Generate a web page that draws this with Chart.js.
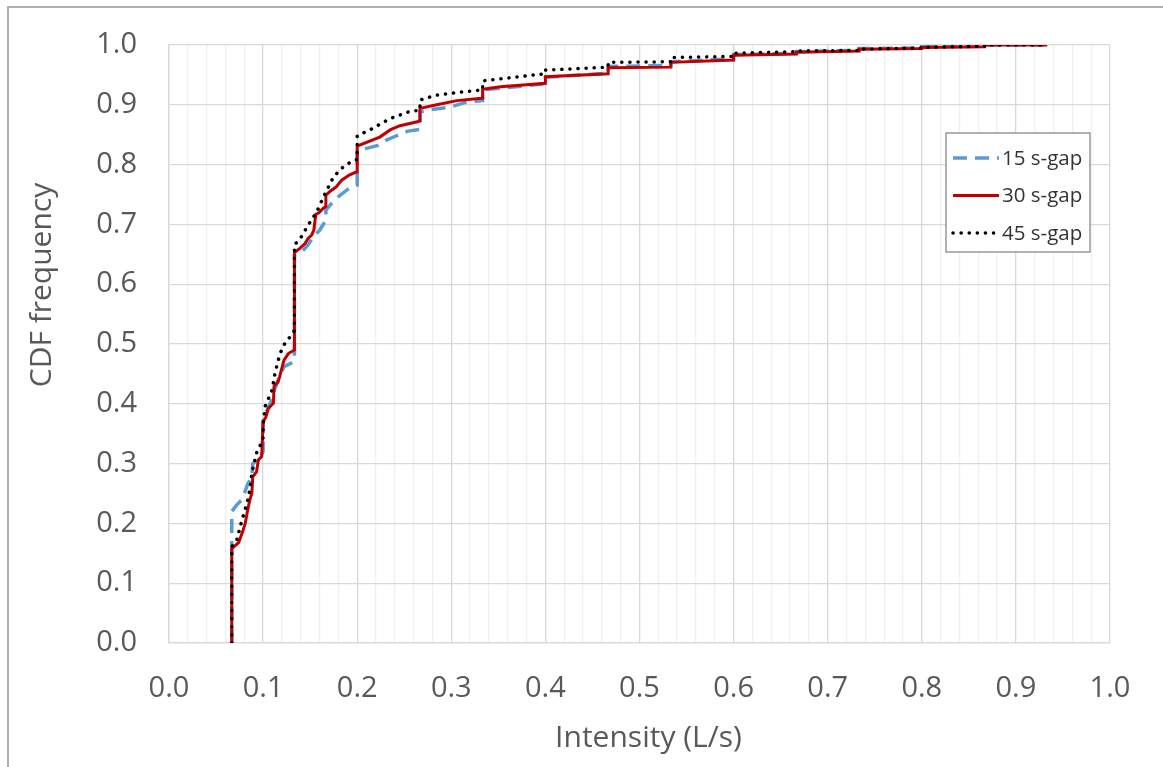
<!DOCTYPE html>
<html>
<head>
<meta charset="utf-8">
<script src="https://cdn.jsdelivr.net/npm/chart.js@4.4.1/dist/chart.umd.min.js"></script>
<style>
  html, body { margin: 0; padding: 0; background: #fff; }
  #wrap { position: relative; width: 1163px; height: 767px; }
  #frame { position: absolute; left: 7px; top: 6px; right: 0; bottom: 0;
           border-top: 2px solid #b0b0b0; border-left: 2px solid #b0b0b0; pointer-events: none; }
</style>
</head>
<body>
<div id="wrap">
  <canvas id="cdfChart" width="1163" height="767"></canvas>
  <div id="frame"></div>
</div>
<script>
// Intensity (L/s) and CDF frequency
const gap15X = [0.0667, 0.0667, 0.072, 0.077, 0.080, 0.084, 0.088, 0.089, 0.097, 0.100, 0.100, 0.103, 0.109, 0.111, 0.116, 0.122, 0.1325, 0.1333, 0.1333,
  0.141, 0.148, 0.153, 0.160, 0.1667, 0.1667, 0.176, 0.182, 0.192, 0.1995, 0.200, 0.200, 0.212, 0.222, 0.231, 0.240, 0.254, 0.2667, 0.2667,
  0.274, 0.2986, 0.315, 0.333, 0.3333, 0.3333, 0.400, 0.400, 0.4667, 0.4667, 0.5333, 0.5333, 0.600, 0.600, 0.6667, 0.6667, 0.7333, 0.7333,
  0.800, 0.800, 0.8667, 0.8667, 0.9333];
const gap15Y = [0.000, 0.220, 0.231, 0.239, 0.250, 0.267, 0.276, 0.300, 0.310, 0.320, 0.375, 0.385, 0.406, 0.418, 0.440, 0.462, 0.470, 0.475, 0.648,
  0.654, 0.666, 0.679, 0.690, 0.707, 0.724, 0.741, 0.749, 0.761, 0.766, 0.766, 0.824, 0.828, 0.832, 0.841, 0.847, 0.856, 0.859, 0.888,
  0.891, 0.896, 0.904, 0.907, 0.907, 0.925, 0.935, 0.946, 0.953, 0.964, 0.966, 0.972, 0.977, 0.984, 0.986, 0.989, 0.991, 0.994,
  0.995, 0.997, 0.998, 1.000, 1.000];

const gap30X = [0.0667, 0.0667, 0.074, 0.078, 0.081, 0.0833, 0.086, 0.088, 0.089, 0.093, 0.095, 0.0985, 0.100, 0.103, 0.1055, 0.111, 0.1116, 0.116, 0.1175, 0.1222, 0.1268, 0.1333, 0.1333,
  0.139, 0.1445, 0.148, 0.1516, 0.154, 0.156, 0.159, 0.164, 0.1667, 0.1667, 0.171, 0.178, 0.1835, 0.192, 0.1994, 0.200, 0.200,
  0.224, 0.235, 0.2455, 0.265, 0.2667, 0.2667, 0.2845, 0.306, 0.332, 0.3333, 0.3333, 0.352, 0.400, 0.400, 0.4667, 0.4667, 0.5333, 0.5333,
  0.600, 0.600, 0.6667, 0.6667, 0.7333, 0.7333, 0.800, 0.800, 0.8667, 0.8667, 0.9333];
const gap30Y = [0.000, 0.158, 0.168, 0.185, 0.200, 0.220, 0.240, 0.250, 0.278, 0.286, 0.306, 0.312, 0.370, 0.378, 0.392, 0.401, 0.429, 0.437, 0.445, 0.473, 0.484, 0.490, 0.653,
  0.660, 0.668, 0.677, 0.682, 0.691, 0.717, 0.719, 0.727, 0.730, 0.749, 0.755, 0.763, 0.774, 0.783, 0.788, 0.788, 0.831,
  0.846, 0.858, 0.865, 0.872, 0.873, 0.894, 0.900, 0.907, 0.911, 0.911, 0.926, 0.930, 0.936, 0.947, 0.952, 0.962, 0.963, 0.971,
  0.975, 0.983, 0.985, 0.988, 0.990, 0.993, 0.994, 0.996, 0.997, 1.000, 1.000];

const gap45X = [0.0667, 0.0667, 0.072, 0.0776, 0.083, 0.0865, 0.088, 0.0918, 0.0935, 0.099, 0.100, 0.100, 0.102, 0.1095, 0.113, 0.118, 0.124, 0.1307, 0.1333, 0.1333,
  0.139, 0.148, 0.157, 0.166, 0.175, 0.187, 0.198, 0.200, 0.200, 0.2135, 0.235, 0.256, 0.2667, 0.2667, 0.284, 0.309, 0.3333, 0.3333,
  0.400, 0.400, 0.4667, 0.4667, 0.5333, 0.5333, 0.600, 0.600, 0.6667, 0.6667, 0.7333, 0.7333, 0.800, 0.800, 0.8667, 0.8667, 0.9333];
const gap45Y = [0.000, 0.161, 0.172, 0.206, 0.234, 0.261, 0.284, 0.309, 0.320, 0.337, 0.340, 0.362, 0.395, 0.423, 0.454, 0.484, 0.504, 0.515, 0.523, 0.666,
  0.675, 0.699, 0.721, 0.752, 0.780, 0.799, 0.808, 0.808, 0.848, 0.858, 0.877, 0.889, 0.891, 0.908, 0.916, 0.921, 0.925, 0.940,
  0.952, 0.958, 0.963, 0.971, 0.972, 0.979, 0.981, 0.986, 0.989, 0.990, 0.991, 0.993, 0.995, 0.996, 0.998, 1.000, 1.000];

const seriesNames = ['15 s-gap', '30 s-gap', '45 s-gap'];
const xTitle = 'Intensity (L/s)';
const yTitle = 'CDF frequency';

const toPoints = (xs, ys) => xs.map((x, i) => ({ x: x, y: ys[i] }));

const textGrey = '#595959';
const font = 'Open Sans';

// axis titles sit a little off-centre in the original, so draw them by hand
const axisTitles = {
    id: 'axisTitles',
    afterDraw(chart) {
        const { ctx, chartArea } = chart;
        ctx.save();
        ctx.fillStyle = textGrey;
        ctx.font = '30px "' + font + '"';
        ctx.textAlign = 'center';
        ctx.textBaseline = 'middle';
        ctx.fillText(xTitle, (chartArea.left + chartArea.right) / 2 + 9, chartArea.bottom + 95);
        ctx.translate(42, chartArea.top + 240);
        ctx.rotate(-Math.PI / 2);
        ctx.fillText(yTitle, 0, 0);
        ctx.restore();
    }
};

// legend box in the upper right of the plot, drawn like the Excel one
const boxLegend = {
    id: 'boxLegend',
    afterDatasetsDraw(chart) {
        const { ctx, chartArea } = chart;
        const left = chartArea.right - 164, top = chartArea.top + 88;
        const w = 144, h = 119;
        ctx.save();
        ctx.fillStyle = '#fff';
        ctx.fillRect(left, top, w, h);
        ctx.strokeStyle = '#7f7f7f';
        ctx.lineWidth = 1.2;
        ctx.strokeRect(left, top, w, h);
        ctx.font = '20.5px "' + font + '"';
        ctx.textBaseline = 'middle';
        chart.data.datasets.forEach((ds, i) => {
            const y = top + 25 + i * 37.5;
            ctx.beginPath();
            ctx.strokeStyle = ds.borderColor;
            ctx.lineWidth = ds.borderWidth;
            ctx.lineCap = ds.borderCapStyle || 'butt';
            ctx.setLineDash(ds.borderDash || []);
            ctx.moveTo(left + 7, y);
            ctx.lineTo(left + 53, y);
            ctx.stroke();
            ctx.setLineDash([]);
            ctx.fillStyle = '#333333';
            ctx.fillText(ds.label, left + 56, y + 1);
        });
        ctx.restore();
    }
};

const isMajor = v => Math.abs(v * 10 - Math.round(v * 10)) < 1e-6;

new Chart(document.getElementById('cdfChart'), {
    type: 'scatter',
    data: {
        datasets: [
            {
                label: seriesNames[0],
                data: toPoints(gap15X, gap15Y),
                borderColor: '#5B9BD5',
                borderWidth: 3.5,
                borderDash: [14, 8],
                showLine: true,
                pointRadius: 0,
                order: 3
            },
            {
                label: seriesNames[1],
                data: toPoints(gap30X, gap30Y),
                borderColor: '#C00000',
                borderWidth: 3,
                showLine: true,
                pointRadius: 0,
                order: 2
            },
            {
                label: seriesNames[2],
                data: toPoints(gap45X, gap45Y),
                borderColor: '#000000',
                borderWidth: 3.5,
                borderDash: [0.1, 8],
                borderCapStyle: 'round',
                showLine: true,
                pointRadius: 0,
                order: 1
            }
        ]
    },
    options: {
        responsive: false,
        animation: false,
        layout: { padding: { left: 0, top: 45, right: 53, bottom: 0 } },
        plugins: { legend: { display: false }, tooltip: { enabled: false } },
        scales: {
            x: {
                type: 'linear',
                min: 0,
                max: 1,
                afterFit: scale => {
                    scale.height = 124;
                    scale.paddingLeft = 0;
                    scale.paddingRight = 0;
                },
                ticks: {
                    stepSize: 0.02,
                    maxTicksLimit: 60,
                    autoSkip: false,
                    maxRotation: 0,
                    padding: 28,
                    color: textGrey,
                    font: { family: font, size: 29 },
                    callback: v => isMajor(v) ? v.toFixed(1) : ''
                },
                grid: {
                    drawTicks: false,
                    color: c => isMajor(c.tick.value) ? '#d9d9d9' : '#f0f0f0',
                    lineWidth: 1.3
                },
                border: { color: '#d9d9d9', width: 1.3 }
            },
            y: {
                min: 0,
                max: 1,
                afterFit: scale => {
                    scale.width = 169;
                    scale.paddingTop = 0;
                    scale.paddingBottom = 0;
                },
                ticks: {
                    stepSize: 0.1,
                    padding: 32,
                    color: textGrey,
                    font: { family: font, size: 29 },
                    callback: v => v.toFixed(1)
                },
                grid: { drawTicks: false, color: '#d9d9d9', lineWidth: 1.3 },
                border: { color: '#d9d9d9', width: 1.3 }
            }
        }
    },
    plugins: [boxLegend, axisTitles]
});
</script>
</body>
</html>
